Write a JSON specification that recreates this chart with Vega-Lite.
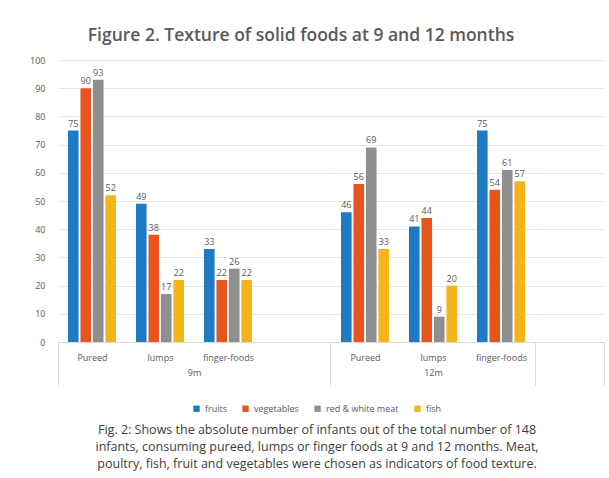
{
  "$schema": "https://vega.github.io/schema/vega-lite/v6.json",
  "padding": {"left": 29, "top": 26, "right": 8, "bottom": 3},
  "background": "white",
  "datasets": {
    "foods": [
      {"age": "9m", "texture": "Pureed", "food": "fruits", "n": 75},
      {"age": "9m", "texture": "Pureed", "food": "vegetables", "n": 90},
      {"age": "9m", "texture": "Pureed", "food": "red & white meat", "n": 93},
      {"age": "9m", "texture": "Pureed", "food": "fish", "n": 52},
      {"age": "9m", "texture": "lumps", "food": "fruits", "n": 49},
      {"age": "9m", "texture": "lumps", "food": "vegetables", "n": 38},
      {"age": "9m", "texture": "lumps", "food": "red & white meat", "n": 17},
      {"age": "9m", "texture": "lumps", "food": "fish", "n": 22},
      {"age": "9m", "texture": "finger-foods", "food": "fruits", "n": 33},
      {"age": "9m", "texture": "finger-foods", "food": "vegetables", "n": 22},
      {"age": "9m", "texture": "finger-foods", "food": "red & white meat", "n": 26},
      {"age": "9m", "texture": "finger-foods", "food": "fish", "n": 22},
      {"age": "12m", "texture": "Pureed", "food": "fruits", "n": 46},
      {"age": "12m", "texture": "Pureed", "food": "vegetables", "n": 56},
      {"age": "12m", "texture": "Pureed", "food": "red & white meat", "n": 69},
      {"age": "12m", "texture": "Pureed", "food": "fish", "n": 33},
      {"age": "12m", "texture": "lumps", "food": "fruits", "n": 41},
      {"age": "12m", "texture": "lumps", "food": "vegetables", "n": 44},
      {"age": "12m", "texture": "lumps", "food": "red & white meat", "n": 9},
      {"age": "12m", "texture": "lumps", "food": "fish", "n": 20},
      {"age": "12m", "texture": "finger-foods", "food": "fruits", "n": 75},
      {"age": "12m", "texture": "finger-foods", "food": "vegetables", "n": 54},
      {"age": "12m", "texture": "finger-foods", "food": "red & white meat", "n": 61},
      {"age": "12m", "texture": "finger-foods", "food": "fish", "n": 57}
    ]
  },
  "config": {
    "font": "Open Sans",
    "view": {"stroke": null},
    "axis": {
      "labelColor": "#595959",
      "labelFontSize": 9,
      "titleColor": "#595959",
      "titleFontSize": 9,
      "titleFontWeight": "normal",
      "gridColor": "#e6e6e6",
      "domainColor": "#d9d9d9",
      "tickColor": "#d9d9d9"
    },
    "legend": {"layout": {"bottom": {"anchor": "middle"}}},
    "concat": {"spacing": 0}
  },
  "title": {
    "text": [
      "Fig. 2: Shows the absolute number of infants out of the total number of 148",
      "infants, consuming pureed, lumps or finger foods at 9 and 12 months. Meat,",
      "poultry, fish, fruit and vegetables were chosen as indicators of food texture."
    ],
    "orient": "bottom",
    "anchor": "middle",
    "fontSize": 12.5,
    "fontWeight": "normal",
    "color": "#404040",
    "lineHeight": 17,
    "offset": 10
  },
  "vconcat": [
    {
      "title": {
        "text": "Figure 2. Texture of solid foods at 9 and 12 months",
        "fontSize": 17.5,
        "fontWeight": 600,
        "color": "#595959",
        "anchor": "middle",
        "dx": -16,
        "offset": 12
      },
      "spacing": 0,
      "hconcat": [
        {
          "width": 272,
          "height": 282,
          "data": {"name": "foods"},
          "transform": [{"filter": "datum.age == '9m'"}],
          "encoding": {
            "x": {
              "field": "texture",
              "type": "nominal",
              "scale": {"domain": ["Pureed", "lumps", "finger-foods", " "], "paddingInner": 0, "paddingOuter": 0},
              "axis": {
                "title": "9m",
                "labelAngle": 0,
                "tickBand": "extent",
                "tickSize": 43,
                "tickOpacity": {"condition": {"test": "datum.extra || datum.value == ' '", "value": 1}, "value": 0},
                "labelPadding": -32,
                "titlePadding": -17
              }
            },
            "xOffset": {
              "field": "food",
              "type": "nominal",
              "sort": ["fruits", "vegetables", "red & white meat", "fish"],
              "scale": {"paddingInner": 0.15, "paddingOuter": 0.8}
            },
            "y": {
              "field": "n",
              "type": "quantitative",
              "scale": {"domain": [0, 100]},
              "axis": {"title": null, "tickCount": 10, "ticks": false, "domain": false, "labelPadding": 13}
            }
          },
          "layer": [
            {
              "mark": {"type": "bar"},
              "encoding": {
                "color": {
                  "field": "food",
                  "type": "nominal",
                  "sort": ["fruits", "vegetables", "red & white meat", "fish"],
                  "scale": {"domain": ["fruits", "vegetables", "red & white meat", "fish"], "range": ["#1f7ac4", "#e8541e", "#8f8f8f", "#f5b41a"]},
                  "legend": {
                    "title": null,
                    "orient": "bottom",
                    "direction": "horizontal",
                    "symbolType": "square",
                    "symbolSize": 40,
                    "labelFontSize": 9,
                    "labelColor": "#595959",
                    "columnPadding": 14,
                    "offset": 18
                  }
                }
              }
            },
            {
              "mark": {"type": "text", "dy": -7, "fontSize": 9, "color": "#595959"},
              "encoding": {"text": {"field": "n", "type": "quantitative"}}
            }
          ]
        },
        {
          "width": 204,
          "height": 282,
          "data": {"name": "foods"},
          "transform": [{"filter": "datum.age == '12m'"}],
          "encoding": {
            "x": {
              "field": "texture",
              "type": "nominal",
              "scale": {"domain": ["Pureed", "lumps", "finger-foods"], "paddingInner": 0, "paddingOuter": 0},
              "axis": {
                "title": "12m",
                "labelAngle": 0,
                "tickBand": "extent",
                "tickSize": 43,
                "tickOpacity": {"condition": {"test": "datum.value == 'finger-foods'", "value": 1}, "value": 0},
                "labelPadding": -32,
                "titlePadding": -17
              }
            },
            "xOffset": {
              "field": "food",
              "type": "nominal",
              "sort": ["fruits", "vegetables", "red & white meat", "fish"],
              "scale": {"paddingInner": 0.15, "paddingOuter": 0.8}
            },
            "y": {
              "field": "n",
              "type": "quantitative",
              "scale": {"domain": [0, 100]},
              "axis": {"title": null, "tickCount": 10, "ticks": false, "domain": false, "labels": false}
            }
          },
          "layer": [
            {
              "mark": {"type": "bar"},
              "encoding": {
                "color": {
                  "field": "food",
                  "type": "nominal",
                  "sort": ["fruits", "vegetables", "red & white meat", "fish"],
                  "scale": {"domain": ["fruits", "vegetables", "red & white meat", "fish"], "range": ["#1f7ac4", "#e8541e", "#8f8f8f", "#f5b41a"]}
                }
              }
            },
            {
              "mark": {"type": "text", "dy": -7, "fontSize": 9, "color": "#595959"},
              "encoding": {"text": {"field": "n", "type": "quantitative"}}
            }
          ]
        },
        {
          "width": 68,
          "height": 282,
          "data": {"name": "foods"},
          "transform": [{"filter": "datum.age == 'none'"}],
          "mark": {"type": "bar"},
          "encoding": {
            "x": {
              "field": "texture",
              "type": "nominal",
              "scale": {"domain": [" "], "paddingInner": 0, "paddingOuter": 0},
              "axis": {
                "title": null,
                "labelAngle": 0,
                "tickBand": "extent",
                "tickSize": 43,
                "tickOpacity": {"condition": {"test": "datum.value == ' '", "value": 1}, "value": 0},
                "labelPadding": -32
              }
            },
            "y": {
              "field": "n",
              "type": "quantitative",
              "scale": {"domain": [0, 100]},
              "axis": {"title": null, "tickCount": 10, "ticks": false, "domain": false, "labels": false}
            }
          }
        }
      ]
    }
  ],
  "resolve": {"scale": {"y": "shared", "color": "shared"}}
}
